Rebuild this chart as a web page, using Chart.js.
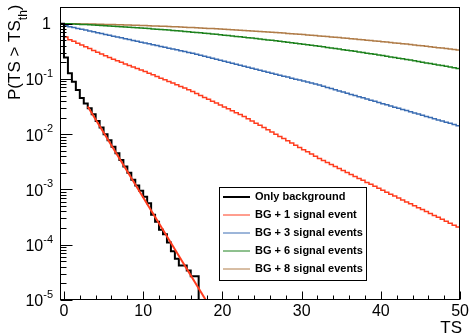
<!DOCTYPE html>
<html>
<head>
<meta charset="utf-8">
<script src="https://cdn.jsdelivr.net/npm/chart.js@4.4.0/dist/chart.umd.min.js"></script>
<style>
  html, body { margin: 0; padding: 0; background: #fff; }
  canvas { display: block; }
</style>
</head>
<body>
<canvas id="chart" width="471" height="335"></canvas>
<script>
// histogram bins are 0.5 wide, the first one starts at TS = -0.5
const binStart = -0.5;
const binWidth = 0.5;

// P(TS > TS_th) per bin
const bgOnly = [
  1, 0.243, 0.127, 0.089, 0.063, 0.045, 0.036, 0.0295, 0.0229, 0.0174,
  0.0132, 0.0100, 0.0078, 0.0059, 0.0045, 0.0034, 0.0026, 0.0020, 0.0015, 0.00118,
  0.00095, 0.00074, 0.00056, 0.00035, 0.00026, 0.000186, 0.000155, 0.00011, 0.000076, 0.000056,
  0.000042, 0.000042, 0.000034, 0.000027, 0.000027,
  1e-7 // empty bin, falls below the axis
];
const bg1 = [
  1, 0.575, 0.513, 0.479, 0.442, 0.410, 0.380, 0.355, 0.328, 0.305,
  0.283, 0.263, 0.244, 0.227, 0.213, 0.200, 0.187, 0.175, 0.164, 0.154,
  0.145, 0.136, 0.127, 0.119, 0.111, 0.103, 0.0964, 0.0899, 0.0839, 0.0783,
  0.0731, 0.0682, 0.0637, 0.0589, 0.0545, 0.0501, 0.0463, 0.0429, 0.0395, 0.0365,
  0.0337, 0.0311, 0.0288, 0.0265, 0.0245, 0.0226, 0.0209, 0.0191, 0.0174, 0.0158,
  0.0145, 0.0132, 0.0120, 0.0110, 0.0100, 0.00912, 0.00832, 0.00759, 0.00692, 0.00631,
  0.00575, 0.00525, 0.00479, 0.00437, 0.00398, 0.00363, 0.00334, 0.00308, 0.00283, 0.00261,
  0.00240, 0.00221, 0.00203, 0.00187, 0.00172, 0.00158, 0.00146, 0.00134, 0.00124, 0.00114,
  0.00105, 0.000966, 0.000891, 0.000822, 0.000759, 0.000700, 0.000646, 0.000596, 0.000550, 0.000507,
  0.000468, 0.000432, 0.000398, 0.000367, 0.000339, 0.000313, 0.000288, 0.000266, 0.000245, 0.000226,
  0.000209
];
const bg3 = [
  1, 0.912, 0.881, 0.851, 0.820, 0.791, 0.764, 0.736, 0.711, 0.685,
  0.661, 0.638, 0.617, 0.594, 0.573, 0.553, 0.533, 0.515, 0.497, 0.479,
  0.462, 0.447, 0.431, 0.415, 0.401, 0.387, 0.373, 0.360, 0.348, 0.336,
  0.324, 0.312, 0.301, 0.291, 0.279, 0.268, 0.257, 0.247, 0.237, 0.227,
  0.218, 0.209, 0.200, 0.192, 0.185, 0.177, 0.170, 0.163, 0.156, 0.150,
  0.144, 0.138, 0.132, 0.127, 0.122, 0.117, 0.112, 0.108, 0.103, 0.0991,
  0.0951, 0.0912, 0.0875, 0.0839, 0.0805, 0.0773, 0.0736, 0.0701, 0.0668, 0.0637,
  0.0607, 0.0578, 0.0551, 0.0525, 0.0500, 0.0476, 0.0454, 0.0433, 0.0412, 0.0393,
  0.0374, 0.0356, 0.0340, 0.0324, 0.0308, 0.0294, 0.0280, 0.0267, 0.0254, 0.0242,
  0.0231, 0.0220, 0.0209, 0.0200, 0.0190, 0.0181, 0.0173, 0.0164, 0.0157, 0.0149,
  0.0142
];
const bg6 = [
  1, 0.993, 0.992, 0.985, 0.977, 0.969, 0.961, 0.953, 0.945, 0.936,
  0.927, 0.919, 0.910, 0.901, 0.892, 0.882, 0.873, 0.863, 0.854, 0.844,
  0.834, 0.824, 0.815, 0.804, 0.795, 0.785, 0.774, 0.764, 0.754, 0.744,
  0.733, 0.723, 0.712, 0.702, 0.692, 0.681, 0.671, 0.660, 0.650, 0.640,
  0.630, 0.619, 0.609, 0.598, 0.588, 0.578, 0.568, 0.558, 0.548, 0.538,
  0.528, 0.518, 0.508, 0.498, 0.489, 0.479, 0.470, 0.460, 0.451, 0.442,
  0.433, 0.423, 0.415, 0.406, 0.397, 0.388, 0.380, 0.371, 0.363, 0.354,
  0.346, 0.338, 0.330, 0.322, 0.315, 0.307, 0.300, 0.292, 0.285, 0.278,
  0.271, 0.264, 0.257, 0.250, 0.244, 0.237, 0.231, 0.225, 0.219, 0.213,
  0.207, 0.201, 0.195, 0.190, 0.184, 0.179, 0.174, 0.169, 0.164, 0.159,
  0.154
];
const bg8 = [
  1, 0.999, 0.998, 0.995, 0.992, 0.989, 0.986, 0.983, 0.980, 0.976,
  0.972, 0.968, 0.964, 0.960, 0.956, 0.951, 0.947, 0.942, 0.937, 0.932,
  0.927, 0.922, 0.916, 0.911, 0.905, 0.899, 0.893, 0.887, 0.881, 0.874,
  0.868, 0.861, 0.855, 0.848, 0.841, 0.834, 0.827, 0.820, 0.813, 0.806,
  0.798, 0.791, 0.784, 0.776, 0.769, 0.761, 0.753, 0.746, 0.738, 0.730,
  0.722, 0.714, 0.706, 0.698, 0.690, 0.682, 0.674, 0.665, 0.657, 0.649,
  0.641, 0.633, 0.625, 0.616, 0.608, 0.600, 0.592, 0.584, 0.576, 0.567,
  0.559, 0.551, 0.543, 0.535, 0.527, 0.519, 0.511, 0.503, 0.495, 0.487,
  0.479, 0.472, 0.464, 0.456, 0.448, 0.441, 0.433, 0.426, 0.418, 0.411,
  0.404, 0.396, 0.389, 0.382, 0.375, 0.368, 0.361, 0.354, 0.347, 0.340,
  0.334
];

// exponential fit on the background-only curve (end points)
const fitTS = [3, 17.9];
const fitP = [0.0316, 1e-5];

const xMajorTicks = [0, 10, 20, 30, 40, 50];
const xMinorStep = 2;
const yDecades = [-5, -4, -3, -2, -1, 0];

const seriesLabels = ['Only background', 'BG + 1 signal event', 'BG + 3 signal events',
                      'BG + 6 signal events', 'BG + 8 signal events'];
const seriesValues = [bgOnly, bg1, bg3, bg6, bg8];
const seriesColors = ['#000000', '#ff3c1e', '#3b6db3', '#1e821e', '#b07c48'];
const seriesWidths = [2, 1.5, 1.5, 1.5, 1.5];

const FONT = "'Liberation Sans', Arial, Helvetica, sans-serif";

// one point at each bin's low edge, plus a closing point at the last high edge
function toSteps(values) {
  const pts = values.map((v, i) => ({ x: binStart + i * binWidth, y: v }));
  pts.push({ x: binStart + values.length * binWidth, y: values[values.length - 1] });
  return pts;
}

const datasets = [{
  label: 'fit',
  data: fitTS.map((x, i) => ({ x: x, y: fitP[i] })),
  borderColor: seriesColors[1],
  borderWidth: 2,
  order: 0
}];
seriesValues.forEach((vals, i) => {
  datasets.push({
    label: seriesLabels[i],
    data: toSteps(vals),
    stepped: true,
    borderColor: seriesColors[i],
    borderWidth: seriesWidths[i],
    order: i + 1
  });
});

// frame, inward ticks, y labels, axis titles and the legend box
const rootStyle = {
  id: 'rootStyle',
  afterDraw(chart) {
    const ctx = chart.ctx;
    const a = chart.chartArea;
    const x = chart.scales.x, y = chart.scales.y;
    const L = Math.round(a.left) + 0.5, R = Math.round(a.right) - 0.5;
    const T = Math.round(a.top) + 0.5, B = Math.round(a.bottom) - 0.5;
    ctx.save();
    ctx.strokeStyle = '#000';
    ctx.lineWidth = 1;
    ctx.strokeRect(L, T, R - L, B - T);

    ctx.beginPath();
    for (let v = xMajorTicks[0]; v <= xMajorTicks[xMajorTicks.length - 1]; v += xMinorStep) {
      const px = Math.round(x.getPixelForValue(v)) + 0.5;
      const len = xMajorTicks.includes(v) ? 8 : 4;
      ctx.moveTo(px, B);
      ctx.lineTo(px, B - len);
    }
    yDecades.forEach(e => {
      for (let m = 1; m <= 9; m++) {
        const v = m * Math.pow(10, e);
        if (v > y.max) break;
        const py = Math.round(y.getPixelForValue(v)) + 0.5;
        ctx.moveTo(L, py);
        ctx.lineTo(L + (m === 1 ? 12 : 6), py);
      }
    });
    ctx.stroke();

    // y tick labels with superscript exponents
    ctx.fillStyle = '#000';
    ctx.textBaseline = 'middle';
    yDecades.forEach(e => {
      const py = y.getPixelForValue(Math.pow(10, e));
      if (e === 0) {
        ctx.font = '16px ' + FONT;
        ctx.textAlign = 'right';
        ctx.fillText('1', 51, py + 1);
        return;
      }
      const sup = String(e);
      ctx.font = '11px ' + FONT;
      const ws = ctx.measureText(sup).width;
      ctx.textAlign = 'left';
      ctx.fillText(sup, 53 - ws, py - 5);
      ctx.font = '16px ' + FONT;
      ctx.textAlign = 'right';
      ctx.fillText('10', 53 - ws, py + 2);
    });

    // axis titles
    ctx.textBaseline = 'alphabetic';
    ctx.font = '17px ' + FONT;
    ctx.textAlign = 'right';
    ctx.fillText('TS', 462, 333);

    ctx.save();
    ctx.translate(20, 100);
    ctx.rotate(-Math.PI / 2);
    ctx.textAlign = 'left';
    ctx.font = '17px ' + FONT;
    ctx.fillText('P(TS > TS', 0, 0);
    let w = ctx.measureText('P(TS > TS').width;
    ctx.font = '12px ' + FONT;
    ctx.fillText('th', w, 7);
    w += ctx.measureText('th').width;
    ctx.font = '17px ' + FONT;
    ctx.fillText(')', w, 0);
    ctx.restore();

    // legend
    const box = { left: 219.5, top: 187.5, right: 366.5, bottom: 280.5 };
    ctx.fillStyle = '#fff';
    ctx.fillRect(box.left, box.top, box.right - box.left, box.bottom - box.top);
    ctx.strokeStyle = '#000';
    ctx.strokeRect(box.left, box.top, box.right - box.left, box.bottom - box.top);
    ctx.font = 'bold 11px ' + FONT;
    ctx.textAlign = 'left';
    ctx.textBaseline = 'middle';
    seriesLabels.forEach((lab, i) => {
      const ly = 197 + i * 18;
      ctx.strokeStyle = seriesColors[i];
      ctx.lineWidth = i === 0 ? 2 : 1;
      ctx.beginPath();
      ctx.moveTo(223, ly);
      ctx.lineTo(250, ly);
      ctx.stroke();
      ctx.fillStyle = '#000';
      ctx.fillText(lab, 255, ly);
    });
    ctx.restore();
  }
};

new Chart(document.getElementById('chart').getContext('2d'), {
  type: 'line',
  data: { datasets: datasets },
  options: {
    responsive: false,
    animation: false,
    devicePixelRatio: 1,
    layout: { padding: { top: 7, right: 9, left: 0, bottom: 0 } },
    elements: { point: { radius: 0 }, line: { tension: 0, fill: false } },
    plugins: { legend: { display: false }, tooltip: { enabled: false } },
    scales: {
      x: {
        type: 'linear',
        min: -0.5,
        max: 50,
        grid: { display: false, drawTicks: false },
        border: { display: false },
        afterBuildTicks: s => { s.ticks = xMajorTicks.map(v => ({ value: v })); },
        afterFit: s => { s.height = 35; },
        ticks: { color: '#000', font: { family: FONT, size: 16 }, padding: 2, maxRotation: 0, autoSkip: false }
      },
      y: {
        type: 'logarithmic',
        min: 1e-5,
        max: 2,
        grid: { display: false, drawTicks: false },
        border: { display: false },
        ticks: { display: false },
        afterFit: s => { s.width = 60; }
      }
    }
  },
  plugins: [rootStyle]
});
</script>
</body>
</html>
